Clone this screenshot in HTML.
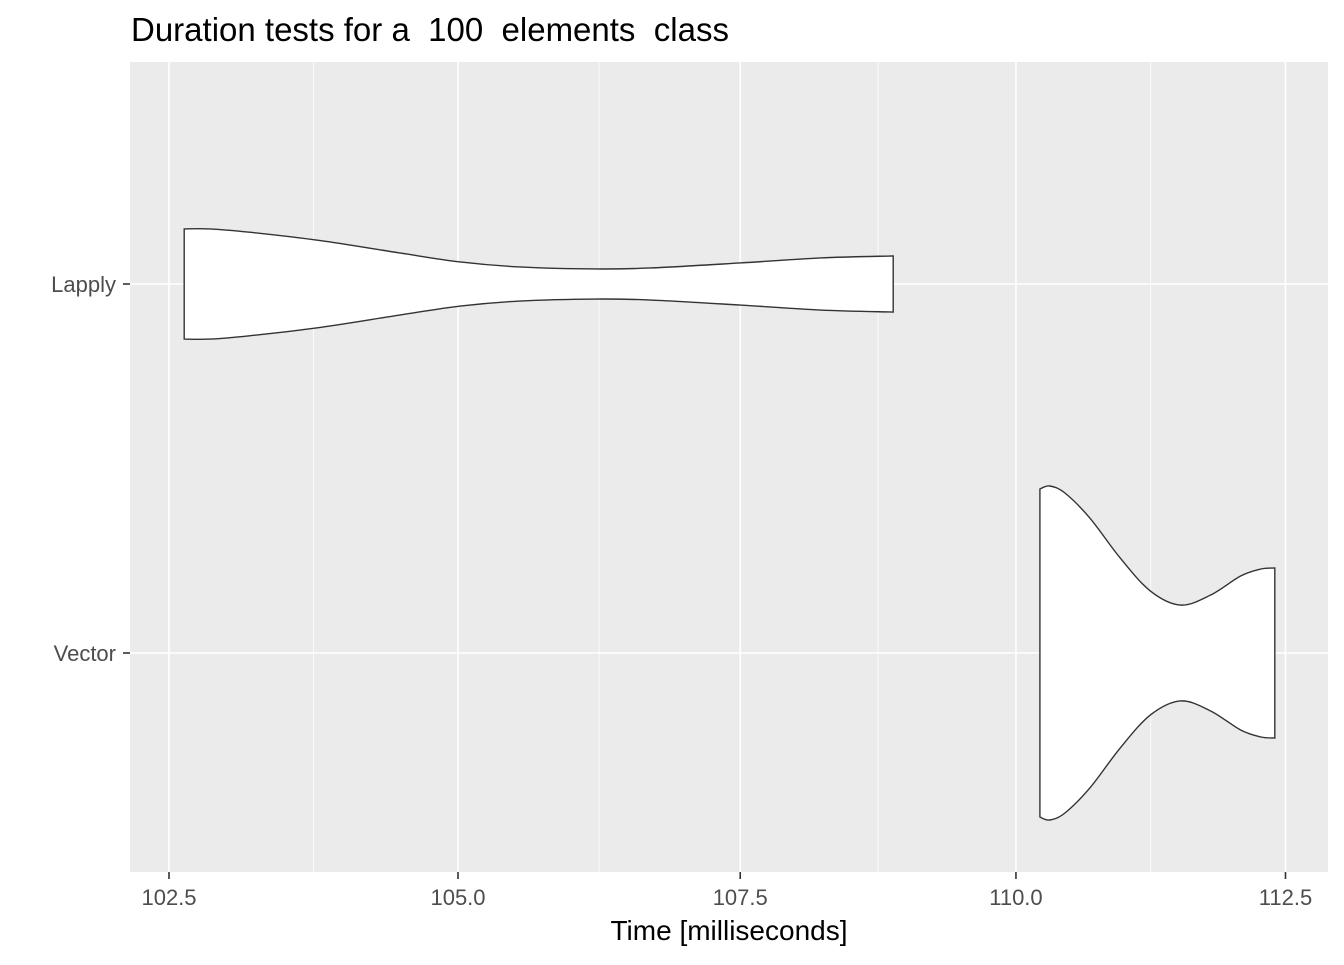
<!DOCTYPE html>
<html><head><meta charset="utf-8"><style>
html,body{margin:0;padding:0;background:#fff;}
svg text{font-family:"Liberation Sans",Arial,sans-serif;}
</style></head><body>
<svg id="chart" width="1344" height="960">
<rect width="1344" height="960" fill="#fff"/>
<text x="131" y="41" font-size="33" fill="#000" xml:space="preserve">Duration tests for a  100  elements  class</text>
<rect x="130" y="62" width="1198" height="810" fill="#ebebeb"/>
<g id="grid"></g>
<g id="marks"></g>
<g id="axes"></g>
<text x="729" y="940" font-size="28" text-anchor="middle" fill="#000">Time [milliseconds]</text>
</svg>
<script>
const categories = ["Lapply", "Vector"];
const xTicks = [102.5, 105.0, 107.5, 110.0, 112.5];
const xTickLabels = ["102.5", "105.0", "107.5", "110.0", "112.5"];
const lapplyTimes = [102.63,102.85,103.19,103.80,104.49,105.02,105.54,106.21,106.70,107.50,108.22,108.88];
const lapplyDensity = [0.33,0.33,0.31,0.26,0.186,0.132,0.102,0.09,0.096,0.126,0.156,0.168];
const vectorTimes = [110.22,110.31,110.45,110.68,110.96,111.24,111.52,111.80,112.08,112.27,112.40];
const vectorDensity = [0.982,1.0,0.958,0.808,0.569,0.371,0.287,0.347,0.461,0.503,0.509];

const NS="http://www.w3.org/2000/svg";
const L0=Math.log10(102.5), K=27616, X0=169;
function xs(t){return X0+(Math.log10(t)-L0)*K;}
function ys(i){return 284+i*369;}
const halfMax=167;
function mk(tag,attrs,parent){const e=document.createElementNS(NS,tag);for(const k in attrs)e.setAttribute(k,attrs[k]);parent.appendChild(e);return e;}
const grid=document.getElementById('grid'), marks=document.getElementById('marks'), axes=document.getElementById('axes');
for(let i=0;i<xTicks.length-1;i++){
  const m=Math.sqrt(xTicks[i]*xTicks[i+1]);
  const l=mk('line',{x1:xs(m),x2:xs(m),y1:62,y2:872,stroke:'#fff','stroke-width':0.8},grid);
  
  
}
xTicks.forEach((t,i)=>{
  const l=mk('line',{x1:xs(t),x2:xs(t),y1:62,y2:872,stroke:'#fff','stroke-width':1.6},grid);
  
  
  const tk=mk('line',{x1:xs(t),x2:xs(t),y1:872,y2:879,stroke:'#333','stroke-width':1.6},axes);
  
  
  const tx=mk('text',{x:xs(t),y:905,'font-size':22,'text-anchor':'middle',fill:'#4d4d4d'},axes);
  tx.textContent=xTickLabels[i];
  
  
});
categories.forEach((c,i)=>{
  const l=mk('line',{x1:130,x2:1328,y1:ys(i),y2:ys(i),stroke:'#fff','stroke-width':1.6},grid);
  
  
  const tk=mk('line',{x1:123,x2:130,y1:ys(i),y2:ys(i),stroke:'#333','stroke-width':1.6},axes);
  
  
  const tx=mk('text',{x:116,y:ys(i)+8,'font-size':22,'text-anchor':'end',fill:'#4d4d4d'},axes);
  tx.textContent=c;
  
  
});
function smooth(pts){
  let d='';
  for(let i=0;i<pts.length-1;i++){
    const p0=pts[Math.max(0,i-1)],p1=pts[i],p2=pts[i+1],p3=pts[Math.min(pts.length-1,i+2)];
    const c1=[p1[0]+(p2[0]-p0[0])/6,p1[1]+(p2[1]-p0[1])/6];
    const c2=[p2[0]-(p3[0]-p1[0])/6,p2[1]-(p3[1]-p1[1])/6];
    d+=` C${c1[0]},${c1[1]} ${c2[0]},${c2[1]} ${p2[0]},${p2[1]}`;
  }
  return d;
}
function violin(times,dens,i,name){
  const cy=ys(i);
  const top=times.map((t,j)=>[xs(t),cy-dens[j]*halfMax]);
  const bot=times.map((t,j)=>[xs(t),cy+dens[j]*halfMax]).reverse();
  let d=`M${top[0][0]},${top[0][1]}`+smooth(top)+` L${bot[0][0]},${bot[0][1]}`+smooth(bot)+' Z';
  const p=mk('path',{d:d,fill:'#fff',stroke:'#333','stroke-width':1.4},marks);
  
  
}
violin(lapplyTimes,lapplyDensity,0,'violin-lapply');
violin(vectorTimes,vectorDensity,1,'violin-vector');
</script>
</body></html>
